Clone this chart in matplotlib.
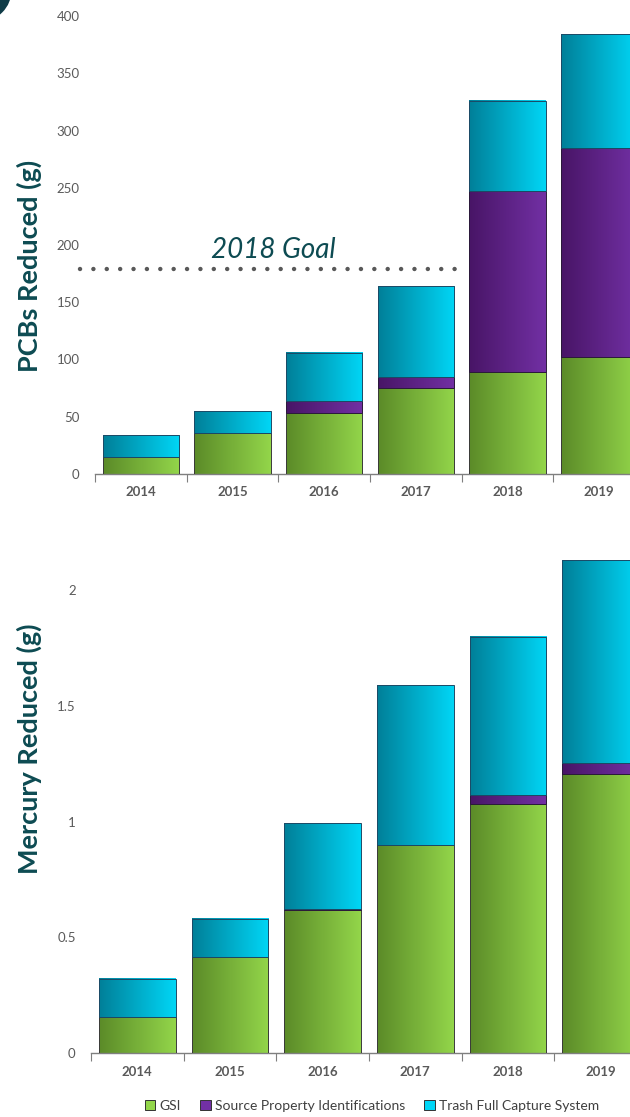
import numpy as np
import matplotlib
matplotlib.use("Agg")
import matplotlib.pyplot as plt
from matplotlib.patches import Patch, Circle
from matplotlib.colors import LinearSegmentedColormap

plt.rcParams['font.family'] = ['Lato', 'DejaVu Sans']

years = ['2014', '2015', '2016', '2017', '2018', '2019']

# PCBs reduced (g)
pcb_gsi = [15, 36, 53, 75, 89, 102]
pcb_source = [0, 0, 11, 10, 158, 183]
pcb_trash = [19, 19, 42, 79, 79, 99]
pcb_goal = 179

# Mercury reduced (g)
hg_gsi = [0.155, 0.415, 0.62, 0.90, 1.075, 1.205]
hg_source = [0, 0, 0.003, 0, 0.04, 0.048]
hg_trash = [0.165, 0.165, 0.37, 0.69, 0.685, 0.877]

series_names = ['GSI', 'Source Property Identifications', 'Trash Full Capture System']
grad_colors = [('#5b8a28', '#93d64a'), ('#481566', '#7230a4'), ('#007f98', '#00d6f6')]
edge_colors = ['#3a3a3a', '#2b1a3a', '#1c4a66']
teal = '#0d4b52'
tick_gray = '#5a5a5a'

fig = plt.figure(figsize=(6.3, 11.17), dpi=100)


def gradient_bars(ax, x, heights, bottoms, colors, edge):
    cmap = LinearSegmentedColormap.from_list('g', colors)
    grad = np.linspace(0, 1, 256).reshape(1, -1)
    rects = ax.bar(x, heights, bottom=bottoms, width=0.83, facecolor='none',
                   edgecolor=edge, linewidth=0.7, zorder=3)
    for r in rects:
        if r.get_height() <= 0:
            continue
        x0, y0 = r.get_x(), r.get_y()
        ax.imshow(grad, cmap=cmap, aspect='auto', zorder=2,
                  extent=[x0, x0 + r.get_width(), y0, y0 + r.get_height()])


def draw_panel(ax, gsi, source, trash, ymax, ylabel, label_xy):
    x = np.arange(len(years))
    b2 = np.array(gsi) + np.array(source)
    gradient_bars(ax, x, gsi, 0, grad_colors[0], edge_colors[0])
    gradient_bars(ax, x, source, gsi, grad_colors[1], edge_colors[1])
    gradient_bars(ax, x, trash, b2, grad_colors[2], edge_colors[2])
    ax.set_xlim(-0.5, len(years) - 0.5)
    ax.set_ylim(0, ymax)
    for s in ['top', 'right', 'left']:
        ax.spines[s].set_visible(False)
    ax.spines['bottom'].set_color('#7f7f7f')
    ax.spines['bottom'].set_linewidth(1.0)
    ax.set_xticks(np.arange(-0.5, len(years) + 0.5, 1.0))
    ax.set_xticklabels([])
    ax.set_xticks(x, minor=True)
    ax.set_xticklabels(years, minor=True, fontweight='bold', fontsize=9.5, color=tick_gray)
    ax.tick_params(axis='x', which='major', length=6, color='#7f7f7f', direction='out')
    ax.tick_params(axis='x', which='minor', length=0, pad=9)
    ax.tick_params(axis='y', length=0, pad=11, labelsize=9.5, labelcolor=tick_gray)
    ax.set_ylabel(ylabel, fontsize=19.5, fontweight='bold', color=teal)
    ax.yaxis.set_label_coords(*label_xy)


ax1 = fig.add_axes([95 / 630, 1 - 474 / 1117, 550 / 630, 458 / 1117])
draw_panel(ax1, pcb_gsi, pcb_source, pcb_trash, 400, 'PCBs Reduced (g)', (-0.096, 0.454))
ax1.set_yticks(np.arange(0, 401, 50))

# 2018 goal dotted line
ax1.plot([-0.66, 3.56], [pcb_goal, pcb_goal], color='#595959', linewidth=3.2,
         linestyle=(0, (0.01, 3.0)), dash_capstyle='round', clip_on=False, zorder=4)
ax1.text(1.45, 196, '2018 Goal', fontsize=20, style='italic', color=teal,
         ha='center', va='center')

ax2 = fig.add_axes([91 / 630, 1 - 1053 / 1117, 556 / 630, 509 / 1117])
draw_panel(ax2, hg_gsi, hg_source, hg_trash, 2.2, 'Mercury Reduced (g)', (-0.088, 0.597))
ax2.set_yticks([0, 0.5, 1, 1.5, 2])
ax2.set_yticklabels(['0', '0.5', '1', '1.5', '2'])

handles = [Patch(facecolor=c[1], edgecolor='#333333', linewidth=0.7) for c in grad_colors]
fig.legend(handles, series_names, loc='center', bbox_to_anchor=(372 / 630, 1 - 1106 / 1117),
           ncol=3, frameon=False, fontsize=10, handlelength=0.75, handleheight=0.75,
           handletextpad=0.3, columnspacing=1.4, labelcolor='#404040')

# dark corner decoration at top-left
fig.patches.append(Circle((-0.2, 11.27), 0.316, transform=fig.dpi_scale_trans,
                          facecolor='#0f3b47', edgecolor='none'))

fig.savefig('out.png', dpi=100)
